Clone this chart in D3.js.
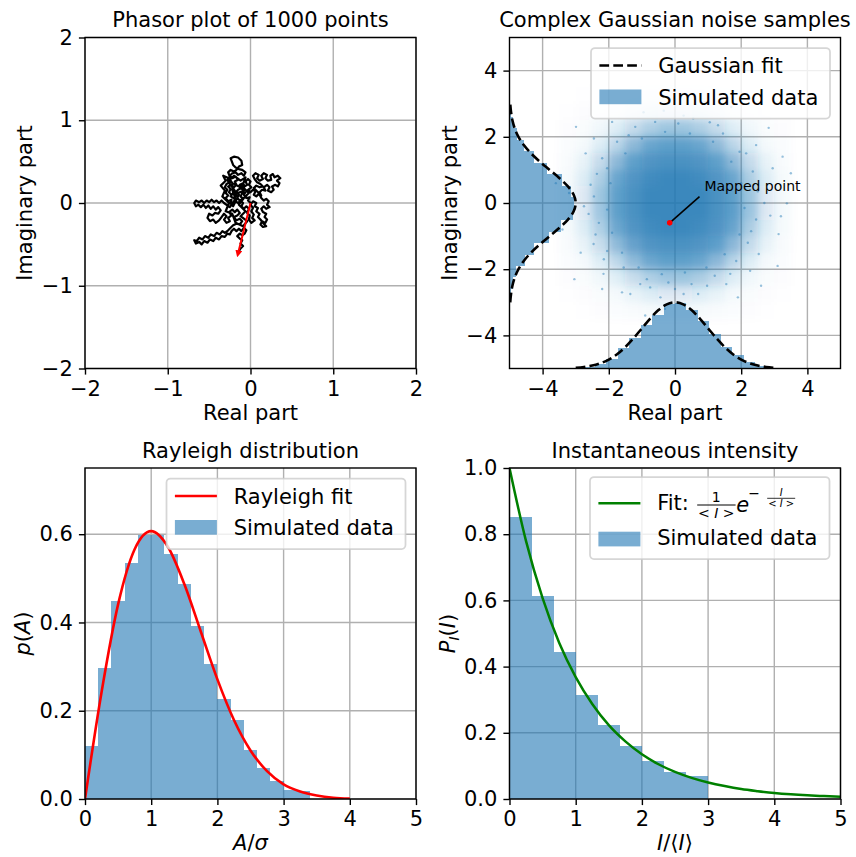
<!DOCTYPE html>
<html>
<head>
<meta charset="utf-8">
<script src="https://cdn.jsdelivr.net/npm/d3@7"></script>
<style>
  html, body { margin: 0; padding: 0; background: #fff; }
  svg { display: block; font-family: "DejaVu Sans", sans-serif; }
</style>
</head>
<body>
<div id="chart"></div>
<script>
// ---- tick values ----
const phasorTicks = [-2, -1, 0, 1, 2];
const noiseTicks = [-4, -2, 0, 2, 4];
const ampTicks = [0, 1, 2, 3, 4, 5];
const rayleighYTicks = [0, 0.2, 0.4, 0.6];
const intensityYTicks = [0, 0.2, 0.4, 0.6, 0.8, 1.0];

// ---- phasor random walk ----
const phasorWalk = [
  [0,0],[-0.03,0.03],[-0.01,0.07],[-0.05,0.06],[-0.08,0.1],[-0.06,0.13],[-0.1,0.12],[-0.12,0.08],[-0.09,0.05],[-0.13,0.03],
  [-0.16,0.06],[-0.14,0.1],[-0.18,0.13],[-0.15,0.16],[-0.11,0.18],[-0.13,0.22],[-0.09,0.24],[-0.07,0.2],[-0.04,0.22],[-0.06,0.26],
  [-0.03,0.29],[0.0,0.26],[-0.02,0.22],[0.01,0.19],[-0.03,0.16],[0.0,0.13],[0.03,0.16],[0.06,0.14],[0.04,0.1],[0.07,0.08],
  [0.1,0.11],[0.13,0.09],[0.11,0.13],[0.14,0.16],[0.18,0.15],[0.16,0.19],[0.2,0.22],[0.23,0.19],[0.21,0.15],[0.25,0.13],
  [0.28,0.16],[0.26,0.2],[0.3,0.22],[0.33,0.2],[0.35,0.24],[0.32,0.27],[0.36,0.3],[0.33,0.33],[0.29,0.31],[0.27,0.35],
  [0.24,0.33],[0.25,0.28],[0.21,0.27],[0.18,0.3],[0.2,0.34],[0.16,0.36],[0.13,0.33],[0.15,0.29],[0.11,0.27],[0.08,0.3],
  [0.1,0.34],[0.06,0.36],[0.03,0.33],[0.05,0.29],[0.08,0.25],[0.12,0.23],[0.15,0.2],[0.11,0.19],[0.07,0.21],[0.04,0.18],
  [0.07,0.15],[0.1,0.12],[0.13,0.06],[0.16,0.03],[0.19,0.05],[0.22,0.02],[0.2,-0.02],[0.23,-0.05],[0.19,-0.07],[0.16,-0.04],
  [0.13,-0.07],[0.15,-0.11],[0.19,-0.13],[0.17,-0.17],[0.2,-0.2],[0.18,-0.24],[0.14,-0.22],[0.12,-0.26],[0.15,-0.29],[0.19,-0.28],
  [0.16,-0.25],[0.12,-0.2],[0.09,-0.17],[0.11,-0.13],[0.07,-0.1],[0.09,-0.06],[0.05,-0.04],[0.07,0.0],[0.03,0.02],[0.0,-0.02],
  [0.03,-0.06],[0.01,-0.1],[0.04,-0.14],[0.02,-0.18],[0.05,-0.21],[0.01,-0.24],[-0.02,-0.2],[-0.01,-0.15],[-0.04,-0.12],[-0.02,-0.07],
  [-0.05,-0.04],[-0.08,-0.07],[-0.11,-0.04],[-0.09,0.0],[-0.12,0.03],[-0.15,0.0],[-0.18,0.02],[-0.2,0.06],[-0.17,0.09],[-0.2,0.13],
  [-0.23,0.1],[-0.26,0.13],[-0.24,0.17],[-0.27,0.2],[-0.23,0.22],[-0.2,0.19],[-0.17,0.22],[-0.19,0.26],[-0.15,0.28],[-0.18,0.32],
  [-0.22,0.3],[-0.25,0.33],[-0.22,0.36],[-0.18,0.37],[-0.15,0.34],[-0.11,0.36],[-0.08,0.33],[-0.06,0.37],[-0.1,0.4],[-0.14,0.41],
  [-0.18,0.43],[-0.21,0.46],[-0.24,0.54],[-0.2,0.56],[-0.15,0.55],[-0.11,0.51],[-0.1,0.46],[-0.14,0.44],[-0.17,0.4],[-0.2,0.38],
  [-0.24,0.4],[-0.27,0.37],[-0.25,0.32],[-0.28,0.28],[-0.25,0.25],[-0.29,0.23],[-0.31,0.19],[-0.28,0.16],[-0.3,0.12],[-0.27,0.09],
  [-0.3,0.06],[-0.27,0.02],[-0.23,0.04],[-0.24,-0.01],
  [-0.21,-0.04],[-0.17,0.04],[-0.24,0.08],[-0.19,0.15],[-0.27,0.26],[-0.2,0.33],[-0.12,0.27],[-0.06,0.31],[-0.1,0.2],[-0.02,0.12],
  [-0.08,0.06],[-0.14,-0.02],[-0.06,-0.1],[-0.12,-0.16],[-0.04,-0.22],[-0.09,-0.28],[-0.18,-0.24],[-0.22,-0.13],[-0.3,-0.1],[-0.26,0.0],
  [-0.34,0.08],[-0.31,0.15],[-0.36,0.21],[-0.3,0.27],[-0.33,0.33],[-0.26,0.3],[-0.22,0.24],[-0.14,0.2],[-0.08,0.15],[-0.15,0.12],
  [-0.22,0.16],[-0.18,0.05],[-0.25,-0.05],
  [-0.28,-0.03],[-0.32,0.0],[-0.35,0.03],[-0.38,0.0],[-0.41,0.03],[-0.44,0.01],
  [-0.47,0.04],[-0.5,0.01],[-0.53,0.03],[-0.56,0.0],[-0.59,0.03],[-0.62,0.01],[-0.66,0.03],[-0.68,0.0],[-0.66,-0.04],[-0.63,-0.02],
  [-0.6,-0.05],[-0.57,-0.02],[-0.54,-0.06],[-0.51,-0.03],[-0.48,-0.07],[-0.45,-0.04],[-0.42,-0.08],[-0.39,-0.05],[-0.36,-0.09],[-0.39,-0.13],
  [-0.43,-0.12],[-0.46,-0.15],[-0.5,-0.13],[-0.52,-0.18],[-0.49,-0.22],[-0.45,-0.2],[-0.42,-0.24],[-0.38,-0.21],[-0.35,-0.17],[-0.32,-0.13],
  [-0.29,-0.16],[-0.32,-0.2],[-0.29,-0.24],[-0.25,-0.22],[-0.27,-0.18],[-0.23,-0.15],[-0.26,-0.11],[-0.22,-0.08],[-0.19,-0.11],[-0.16,-0.08],
  [-0.13,-0.12],[-0.16,-0.15],[-0.2,-0.17],[-0.17,-0.21],[-0.13,-0.19],[-0.1,-0.22],[-0.13,-0.26],[-0.17,-0.25],[-0.21,-0.27],[-0.24,-0.3],
  [-0.27,-0.33],[-0.31,-0.36],[-0.34,-0.34],[-0.37,-0.38],[-0.41,-0.36],[-0.44,-0.4],[-0.48,-0.38],[-0.51,-0.42],[-0.55,-0.4],[-0.58,-0.44],
  [-0.62,-0.42],[-0.65,-0.46],[-0.68,-0.45],[-0.66,-0.49],[-0.62,-0.47],[-0.59,-0.5],[-0.56,-0.46],[-0.52,-0.48],[-0.49,-0.44],[-0.45,-0.46],
  [-0.42,-0.42],[-0.38,-0.44],[-0.35,-0.4],[-0.31,-0.41],[-0.28,-0.37],[-0.25,-0.38],[-0.23,-0.34],[-0.2,-0.31],[-0.17,-0.34],[-0.14,-0.31],
  [-0.11,-0.34],[-0.08,-0.3],[-0.05,-0.33],[-0.07,-0.37],[-0.1,-0.39],[-0.13,-0.37],[-0.16,-0.4],[-0.13,-0.43],[-0.1,-0.45],[-0.12,-0.49],
  [-0.09,-0.52],[-0.12,-0.55],[-0.145,-0.59]
];
const phasorOrigin = [0, 0];
const phasorSum = [-0.145, -0.59];

// ---- complex noise cloud: point density per 0.5 x 0.5 cell, rows from y=3.25 down to y=-3.25 ----
const cloudCenters = [-3.25, -2.75, -2.25, -1.75, -1.25, -0.75, -0.25, 0.25, 0.75, 1.25, 1.75, 2.25, 2.75, 3.25];
const cloudDensity = [
  [0, 0.005, 0.012, 0.02, 0.03, 0.045, 0.05, 0.05, 0.045, 0.03, 0.02, 0.012, 0.005, 0],
  [0.005, 0.015, 0.028, 0.05, 0.1, 0.15, 0.18, 0.18, 0.15, 0.1, 0.05, 0.028, 0.015, 0.005],
  [0.012, 0.028, 0.065, 0.15, 0.29, 0.4, 0.47, 0.47, 0.4, 0.29, 0.15, 0.065, 0.028, 0.012],
  [0.02, 0.05, 0.15, 0.34, 0.57, 0.73, 0.78, 0.78, 0.73, 0.57, 0.34, 0.15, 0.05, 0.02],
  [0.03, 0.1, 0.29, 0.57, 0.78, 0.87, 0.9, 0.9, 0.87, 0.78, 0.57, 0.29, 0.1, 0.03],
  [0.045, 0.15, 0.4, 0.73, 0.87, 0.94, 0.97, 0.97, 0.94, 0.87, 0.73, 0.4, 0.15, 0.045],
  [0.05, 0.18, 0.47, 0.78, 0.9, 0.97, 0.97, 0.97, 0.97, 0.9, 0.78, 0.47, 0.18, 0.05],
  [0.05, 0.18, 0.46, 0.78, 0.9, 0.97, 0.97, 0.97, 0.97, 0.9, 0.79, 0.48, 0.18, 0.05],
  [0.045, 0.15, 0.39, 0.72, 0.87, 0.94, 0.97, 0.97, 0.94, 0.88, 0.74, 0.41, 0.15, 0.045],
  [0.03, 0.1, 0.28, 0.56, 0.77, 0.87, 0.9, 0.9, 0.87, 0.79, 0.58, 0.3, 0.1, 0.03],
  [0.02, 0.05, 0.15, 0.33, 0.56, 0.72, 0.78, 0.78, 0.73, 0.58, 0.35, 0.15, 0.05, 0.02],
  [0.012, 0.028, 0.065, 0.14, 0.28, 0.39, 0.46, 0.47, 0.41, 0.3, 0.15, 0.065, 0.028, 0.012],
  [0.005, 0.015, 0.028, 0.05, 0.1, 0.15, 0.18, 0.18, 0.15, 0.1, 0.05, 0.028, 0.015, 0.005],
  [0, 0.005, 0.012, 0.02, 0.03, 0.045, 0.05, 0.05, 0.045, 0.03, 0.02, 0.012, 0.005, 0]
];
const cloudOutliers = [
  [-2.99, 2.30], [-3.04, -2.30], [3.13, -0.94], [2.83, 2.27], [3.38, -0.01], [2.88, -0.38], [2.53, -1.54],
  [-0.95, 2.74], [-0.34, 2.79], [0.26, 2.64], [1.05, 2.44], [-2.61, -0.33], [-2.36, 0.88], [-2.46, -1.24],
  [-2.16, -2.14], [-1.35, -2.75], [-0.44, -2.85], [0.26, -2.75], [0.97, -2.5], [1.67, -2.14], [2.27, -2.05],
  [-2.45, 0.2], [-2.3, -0.6], [-2.55, 0.55], [-2.2, 1.35], [-1.75, 1.85], [-1.2, 2.3], [-0.6, 2.45], [0.1, 2.4],
  [0.55, 2.55], [1.45, 2.1], [1.95, 1.55], [2.35, 0.95], [2.5, 0.35], [2.45, -0.5], [2.2, -1.2], [1.85, -1.75],
  [1.2, -2.2], [0.5, -2.45], [-0.2, -2.4], [-0.85, -2.3], [-1.55, -1.95], [-2.05, -1.45], [-2.4, -0.95],
  [-1.9, 2.45], [-2.7, 1.5], [-3.2, 0.3], [2.95, 1.05], [3.1, -1.9], [-0.3, -3.2], [0.9, 3.05], [-1.6, -2.7],
  [2.6, -2.5], [1.7, 2.9], [-2.2, -2.6], [3.5, 0.9], [-3.4, -0.8],
  [-1.95, 0.6], [-2.05, -0.2], [-1.9, -0.9], [-1.6, -1.5], [-1.1, -1.95], [-0.4, -2.15], [0.3, -2.1],
  [0.95, -1.95], [1.5, -1.55], [1.95, -0.95], [2.1, -0.15], [2.0, 0.6], [1.7, 1.25], [1.15, 1.85],
  [0.45, 2.1], [-0.3, 2.15], [-1.0, 1.95], [-1.5, 1.5], [-2.05, 1.05], [-2.15, -1.7], [2.3, -0.85],
  [2.15, 1.5], [-0.75, -2.55], [1.3, 2.35], [-1.4, 2.05], [0.0, -2.6], [2.7, 0.0], [-2.75, -0.1],
  [0.7, -2.75], [-1.05, -2.45], [1.55, -2.45], [2.45, 1.75], [-2.45, 1.95], [-2.85, -1.5], [3.2, -0.4],
  [0.3, 3.3], [-0.9, -3.4], [1.9, -2.85], [3.25, 1.4], [-3.6, 0.6]
];
const markedPoint = [-0.16, -0.6];
const markedLabelAt = [0.89, 0.37];
const markedArrowFrom = [0.74, 0.19];

// ---- marginal histograms (height above the axis edge, in axis units) ----
const realEdges = [-3.45, -3.105, -2.76, -2.415, -2.07, -1.725, -1.38, -1.035, -0.69, -0.345, 0,
  0.345, 0.69, 1.035, 1.38, 1.725, 2.07, 2.415, 2.76, 3.105, 3.45];
const realHeights = [0.01, 0.03, 0.06, 0.15, 0.30, 0.63, 0.92, 1.32, 1.62, 1.96, 1.98,
  1.78, 1.44, 1.04, 0.66, 0.4, 0.21, 0.09, 0.03, 0.01];
const imagEdges = [2.95, 2.61, 2.26, 1.915, 1.57, 1.22, 0.873, 0.526, 0.178, -0.169,
  -0.516, -0.863, -1.21, -1.56, -1.905, -2.25, -2.6, -2.95];
const imagHeights = [0.05, 0.11, 0.24, 0.45, 0.74, 1.12, 1.6, 1.86, 1.95, 1.92, 1.55, 1.2, 0.74, 0.47, 0.2, 0.1, 0.04];
const gaussT = [-3, -2.75, -2.5, -2.25, -2, -1.75, -1.5, -1.25, -1, -0.75, -0.5, -0.25, 0,
  0.25, 0.5, 0.75, 1, 1.25, 1.5, 1.75, 2, 2.25, 2.5, 2.75, 3];
const gaussFit = [0.022, 0.046, 0.088, 0.159, 0.271, 0.432, 0.649, 0.916, 1.213, 1.509, 1.765, 1.939, 2.0,
  1.939, 1.765, 1.509, 1.213, 0.916, 0.649, 0.432, 0.271, 0.159, 0.088, 0.046, 0.022];

// ---- Rayleigh ----
const rayleighEdges = [0, 0.2, 0.4, 0.6, 0.8, 1.0, 1.2, 1.4, 1.6, 1.8, 2.0, 2.2, 2.4, 2.6, 2.8, 3.0, 3.2, 3.4];
const rayleighDensity = [0.12, 0.297, 0.449, 0.534, 0.599, 0.598, 0.556, 0.488, 0.391, 0.307, 0.226, 0.18,
  0.112, 0.07, 0.04, 0.02, 0.017];
const rayleighA = [0, 0.25, 0.5, 0.75, 1, 1.25, 1.5, 1.75, 2, 2.25, 2.5, 2.75, 3, 3.25, 3.5, 3.75, 4];
const rayleighFit = [0, 0.242, 0.441, 0.566, 0.607, 0.572, 0.487, 0.379, 0.271, 0.179, 0.11, 0.063, 0.033,
  0.017, 0.008, 0.003, 0.001];

// ---- intensity ----
const intensityEdges = [0, 0.333, 0.667, 1, 1.333, 1.667, 2, 2.333, 2.667, 3];
const intensityDensity = [0.852, 0.612, 0.444, 0.313, 0.224, 0.16, 0.115, 0.082, 0.07];
const intensityI = [0, 0.25, 0.5, 0.75, 1, 1.25, 1.5, 1.75, 2, 2.25, 2.5, 2.75, 3, 3.25, 3.5, 3.75, 4,
  4.25, 4.5, 4.75, 5];
const intensityFit = [1, 0.779, 0.607, 0.472, 0.368, 0.287, 0.223, 0.174, 0.135, 0.105, 0.082, 0.064, 0.05,
  0.039, 0.03, 0.0235, 0.018, 0.014, 0.011, 0.0087, 0.0067];

// ---- layout / style ----
const W = 856, H = 857;
const SIZE = 331;
const BLUE = '#1f77b4';
const FS = 21;
const LW = 1.4;     // 0.8pt spines / grid
const TICK = 6.1;   // 3.5pt

const svg = d3.select('#chart').append('svg')
  .attr('width', W).attr('height', H)
  .attr('viewBox', `0 0 ${W} ${H}`);

const defs = svg.append('defs');
const blur = defs.append('filter').attr('id', 'soft')
  .attr('x', '-20%').attr('y', '-20%').attr('width', '140%').attr('height', '140%');
blur.append('feGaussianBlur').attr('stdDeviation', 4);

defs.append('marker').attr('id', 'redhead')
  .attr('viewBox', '0 0 10 10').attr('refX', 2).attr('refY', 5)
  .attr('markerWidth', 7).attr('markerHeight', 7)
  .attr('markerUnits', 'userSpaceOnUse').attr('orient', 'auto')
  .append('path').attr('d', 'M0,0 L10,5 L0,10 Z').attr('fill', '#ff0000');

function panel(opts) {
  const g = svg.append('g').attr('transform', `translate(${opts.left},${opts.top})`);
  const x = d3.scaleLinear().domain(opts.xDomain).range([0, SIZE]);
  const y = d3.scaleLinear().domain(opts.yDomain).range([SIZE, 0]);

  g.append('clipPath').attr('id', 'clip-' + opts.id)
    .append('rect').attr('width', SIZE).attr('height', SIZE);

  const grid = g.append('g').attr('stroke', '#b0b0b0').attr('stroke-width', LW);
  grid.selectAll('.gx').data(opts.xTicks).join('line')
    .attr('x1', d => x(d)).attr('x2', d => x(d)).attr('y1', 0).attr('y2', SIZE);
  grid.selectAll('.gy').data(opts.yTicks).join('line')
    .attr('y1', d => y(d)).attr('y2', d => y(d)).attr('x1', 0).attr('x2', SIZE);

  const plot = g.append('g').attr('clip-path', `url(#clip-${opts.id})`);
  return { g, plot, x, y, opts };
}

function finish(p) {
  const { g, x, y, opts } = p;
  const xAxis = d3.axisBottom(x).tickValues(opts.xTicks).tickFormat(opts.xFmt)
    .tickSize(TICK).tickPadding(6.1).tickSizeOuter(0);
  const yAxis = d3.axisLeft(y).tickValues(opts.yTicks).tickFormat(opts.yFmt)
    .tickSize(TICK).tickPadding(6.1).tickSizeOuter(0);

  const xg = g.append('g').attr('transform', `translate(0,${SIZE})`).call(xAxis);
  const yg = g.append('g').call(yAxis);
  [xg, yg].forEach(a => {
    a.attr('font-family', null).attr('font-size', FS);
    a.select('.domain').remove();
    a.selectAll('line').attr('stroke', '#000').attr('stroke-width', LW);
    a.selectAll('text').attr('fill', '#000');
  });

  g.append('rect').attr('width', SIZE).attr('height', SIZE)
    .attr('fill', 'none').attr('stroke', '#000').attr('stroke-width', LW);

  g.append('text').attr('x', SIZE / 2).attr('y', -10.5)
    .attr('text-anchor', 'middle').attr('font-size', FS).text(opts.title);

  const xl = g.append('text').attr('x', SIZE / 2).attr('y', SIZE + 51)
    .attr('text-anchor', 'middle').attr('font-size', FS);
  opts.xLabel.forEach(([t, it, extra]) => addSpan(xl, t, it, extra));

  const yl = g.append('text').attr('transform', `translate(${opts.yLabelX},${SIZE / 2}) rotate(-90)`)
    .attr('text-anchor', 'middle').attr('font-size', FS);
  opts.yLabel.forEach(([t, it, extra]) => addSpan(yl, t, it, extra));
}

function addSpan(sel, t, italic, extra) {
  const s = sel.append('tspan').text(t);
  if (italic) s.attr('font-style', 'italic');
  if (extra) Object.entries(extra).forEach(([k, v]) => s.attr(k, v));
  return s;
}

function legendBox(g, box) {
  g.append('rect').attr('x', box.x).attr('y', box.y).attr('width', box.w).attr('height', box.h)
    .attr('rx', 4).attr('fill', '#fff').attr('fill-opacity', 0.8)
    .attr('stroke', '#ccc').attr('stroke-opacity', 0.8).attr('stroke-width', 1.75);
}

function legendPatch(g, box, yTop, baseline) {
  g.append('rect').attr('x', box.x + 8.4).attr('y', yTop).attr('width', 42).attr('height', 14.7)
    .attr('fill', BLUE).attr('fill-opacity', 0.6);
  g.append('text').attr('x', box.x + 67.2).attr('y', baseline).attr('font-size', FS).text('Simulated data');
}

function histBars(p, edges, vals, color) {
  p.plot.append('g').selectAll('rect').data(vals).join('rect')
    .attr('x', (d, i) => p.x(edges[i]))
    .attr('width', (d, i) => p.x(edges[i + 1]) - p.x(edges[i]))
    .attr('y', d => p.y(d))
    .attr('height', d => p.y(0) - p.y(d))
    .attr('fill', color).attr('fill-opacity', 0.6)
    .attr('shape-rendering', 'crispEdges');
}

const fmtInt = d3.format('d');
const fmt1 = d3.format('.1f');

// ===== Top left: phasor walk =====
const tl = panel({
  id: 'tl', left: 85, top: 37.5, xDomain: [-2, 2], yDomain: [-2, 2],
  xTicks: phasorTicks, yTicks: phasorTicks, xFmt: fmtInt, yFmt: fmtInt,
  title: 'Phasor plot of 1000 points',
  xLabel: [['Real part']], yLabel: [['Imaginary part']], yLabelX: -53
});
tl.plot.append('path').datum(phasorWalk)
  .attr('d', d3.line().x(d => tl.x(d[0])).y(d => tl.y(d[1])))
  .attr('fill', 'none').attr('stroke', '#000').attr('stroke-width', 2.2).attr('stroke-linejoin', 'round');
tl.plot.append('line')
  .attr('x1', tl.x(phasorOrigin[0])).attr('y1', tl.y(phasorOrigin[1]))
  .attr('x2', tl.x(phasorSum[0])).attr('y2', tl.y(phasorSum[1]))
  .attr('stroke', '#ff0000').attr('stroke-width', 2).attr('marker-end', 'url(#redhead)');
finish(tl);

// ===== Top right: complex gaussian noise =====
const tr = panel({
  id: 'tr', left: 509.5, top: 37.5, xDomain: [-5, 5], yDomain: [-5, 5],
  xTicks: noiseTicks, yTicks: noiseTicks, xFmt: fmtInt, yFmt: fmtInt,
  title: 'Complex Gaussian noise samples',
  xLabel: [['Real part']], yLabel: [['Imaginary part']], yLabelX: -53
});
const cells = [];
cloudDensity.forEach((row, r) => row.forEach((v, c) => {
  if (v > 0) cells.push({ cx: cloudCenters[c], cy: cloudCenters[cloudCenters.length - 1 - r], v });
}));
tr.plot.append('g').attr('filter', 'url(#soft)')
  .selectAll('rect').data(cells).join('rect')
  .attr('x', d => tr.x(d.cx - 0.25)).attr('y', d => tr.y(d.cy + 0.25))
  .attr('width', d => tr.x(d.cx + 0.25) - tr.x(d.cx - 0.25))
  .attr('height', d => tr.y(d.cy - 0.25) - tr.y(d.cy + 0.25))
  .attr('fill', BLUE).attr('fill-opacity', d => d.v * 0.9)
  .attr('shape-rendering', 'crispEdges');
tr.plot.append('g').selectAll('circle').data(cloudOutliers).join('circle')
  .attr('cx', d => tr.x(d[0])).attr('cy', d => tr.y(d[1])).attr('r', 1.2)
  .attr('fill', BLUE).attr('fill-opacity', 0.45);

// bottom marginal (real part)
tr.plot.append('g').selectAll('rect').data(realHeights).join('rect')
  .attr('x', (d, i) => tr.x(realEdges[i]))
  .attr('width', (d, i) => tr.x(realEdges[i + 1]) - tr.x(realEdges[i]))
  .attr('y', d => tr.y(-5 + d))
  .attr('height', d => tr.y(-5) - tr.y(-5 + d))
  .attr('fill', BLUE).attr('fill-opacity', 0.6).attr('shape-rendering', 'crispEdges');
// left marginal (imaginary part)
tr.plot.append('g').selectAll('rect').data(imagHeights).join('rect')
  .attr('y', (d, i) => tr.y(imagEdges[i]))
  .attr('height', (d, i) => tr.y(imagEdges[i + 1]) - tr.y(imagEdges[i]))
  .attr('x', tr.x(-5))
  .attr('width', d => tr.x(-5 + d) - tr.x(-5))
  .attr('fill', BLUE).attr('fill-opacity', 0.6).attr('shape-rendering', 'crispEdges');

const dashed = sel => sel.attr('fill', 'none').attr('stroke', '#000').attr('stroke-width', 2.6)
  .attr('stroke-dasharray', '9.7,4.2');
tr.plot.append('path').datum(gaussT)
  .attr('d', d3.line().x(t => tr.x(t)).y((t, i) => tr.y(-5 + gaussFit[i])).curve(d3.curveMonotoneX))
  .call(dashed);
tr.plot.append('path').datum(gaussT)
  .attr('d', d3.line().y(t => tr.y(t)).x((t, i) => tr.x(-5 + gaussFit[i])).curve(d3.curveMonotoneY))
  .call(dashed);

// annotation
tr.g.append('line')
  .attr('x1', tr.x(markedArrowFrom[0])).attr('y1', tr.y(markedArrowFrom[1]))
  .attr('x2', tr.x(markedPoint[0])).attr('y2', tr.y(markedPoint[1]))
  .attr('stroke', '#000').attr('stroke-width', 1.6);
tr.g.append('circle').attr('cx', tr.x(markedPoint[0])).attr('cy', tr.y(markedPoint[1]))
  .attr('r', 2.8).attr('fill', '#ff0000');
tr.g.append('text').attr('x', tr.x(markedLabelAt[0])).attr('y', tr.y(markedLabelAt[1]))
  .attr('font-size', 14).text('Mapped point');

{
  const box = { x: 81.5, y: 10.5, w: 239, h: 70.5 };
  legendBox(tr.g, box);
  tr.g.append('line').attr('x1', box.x + 8.4).attr('x2', box.x + 50.4).attr('y1', 28).attr('y2', 28)
    .call(dashed);
  tr.g.append('text').attr('x', box.x + 67.2).attr('y', 35.5).attr('font-size', FS).text('Gaussian fit');
  legendPatch(tr.g, box, 52, 67);
}
finish(tr);

// ===== Bottom left: Rayleigh =====
const bl = panel({
  id: 'bl', left: 85, top: 468, xDomain: [0, 5], yDomain: [0, 0.75],
  xTicks: ampTicks, yTicks: rayleighYTicks, xFmt: fmtInt, yFmt: fmt1,
  title: 'Rayleigh distribution',
  xLabel: [['A', true], ['/'], ['σ', true]],
  yLabel: [['p', true], ['('], ['A', true], [')']], yLabelX: -55
});
histBars(bl, rayleighEdges, rayleighDensity, BLUE);
bl.plot.append('path').datum(rayleighA)
  .attr('d', d3.line().x(a => bl.x(a)).y((a, i) => bl.y(rayleighFit[i])).curve(d3.curveMonotoneX))
  .attr('fill', 'none').attr('stroke', '#ff0000').attr('stroke-width', 2.6);
{
  const box = { x: 81.5, y: 10.5, w: 239, h: 70.5 };
  legendBox(bl.g, box);
  bl.g.append('line').attr('x1', box.x + 8.4).attr('x2', box.x + 50.4).attr('y1', 28).attr('y2', 28)
    .attr('stroke', '#ff0000').attr('stroke-width', 2.6);
  bl.g.append('text').attr('x', box.x + 67.2).attr('y', 35.5).attr('font-size', FS).text('Rayleigh fit');
  legendPatch(bl.g, box, 52, 67);
}
finish(bl);

// ===== Bottom right: intensity =====
const br = panel({
  id: 'br', left: 509.5, top: 468, xDomain: [0, 5], yDomain: [0, 1],
  xTicks: ampTicks, yTicks: intensityYTicks, xFmt: fmtInt, yFmt: fmt1,
  title: 'Instantaneous intensity',
  xLabel: [['I', true], ['/⟨'], ['I', true], ['⟩']],
  yLabel: [['P', true], ['I', true, { 'font-size': 14, dy: 4 }], ['(', false, { dy: -4 }], ['I', true], [')']],
  yLabelX: -55
});
histBars(br, intensityEdges, intensityDensity, BLUE);
br.plot.append('path').datum(intensityI)
  .attr('d', d3.line().x(v => br.x(v)).y((v, i) => br.y(intensityFit[i])).curve(d3.curveMonotoneX))
  .attr('fill', 'none').attr('stroke', '#008000').attr('stroke-width', 2.5);
{
  const box = { x: 80.5, y: 9, w: 239.5, h: 82 };
  legendBox(br.g, box);
  const b1 = 42;
  const tx = box.x + 67.2;
  br.g.append('line').attr('x1', box.x + 8.4).attr('x2', box.x + 50.4).attr('y1', 35.3).attr('y2', 35.3)
    .attr('stroke', '#008000').attr('stroke-width', 2.5);
  const lg = br.g.append('g').attr('fill', '#000');
  lg.append('text').attr('x', tx).attr('y', b1).attr('font-size', FS).text('Fit:');
  // 1 / <I>
  lg.append('text').attr('x', tx + 59).attr('y', b1 - 8).attr('font-size', 14).attr('text-anchor', 'middle').text('1');
  lg.append('line').attr('x1', tx + 40).attr('x2', tx + 78.4).attr('y1', b1 - 5).attr('y2', b1 - 5)
    .attr('stroke', '#000').attr('stroke-width', 1);
  const den = lg.append('text').attr('x', tx + 59).attr('y', b1 + 8).attr('font-size', 14).attr('text-anchor', 'middle');
  addSpan(den, '< '); addSpan(den, 'I', true); addSpan(den, ' >');
  // e^{-I/<I>}
  lg.append('text').attr('x', tx + 79).attr('y', b1 + 1.5).attr('font-size', FS).attr('font-style', 'italic').text('e');
  lg.append('text').attr('x', tx + 91).attr('y', b1 - 12).attr('font-size', 14).text('−');
  lg.append('text').attr('x', tx + 124).attr('y', b1 - 14.5).attr('font-size', 10)
    .attr('text-anchor', 'middle').attr('font-style', 'italic').text('I');
  lg.append('line').attr('x1', tx + 110).attr('x2', tx + 138).attr('y1', b1 - 11.7).attr('y2', b1 - 11.7)
    .attr('stroke', '#000').attr('stroke-width', 0.8);
  const den2 = lg.append('text').attr('x', tx + 124).attr('y', b1 - 3).attr('font-size', 10).attr('text-anchor', 'middle');
  addSpan(den2, '< '); addSpan(den2, 'I', true); addSpan(den2, ' >');
  legendPatch(br.g, box, 63.7, 77);
}
finish(br);
</script>
</body>
</html>
